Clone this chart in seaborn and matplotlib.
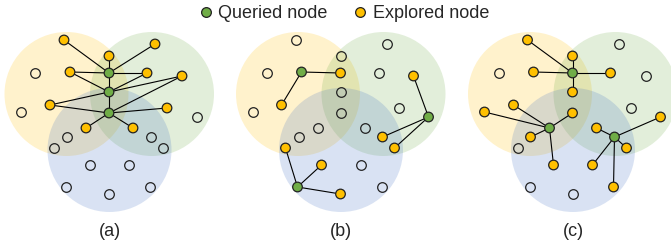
import numpy as np
import pandas as pd
import matplotlib
matplotlib.use("Agg")
import matplotlib.pyplot as plt
import seaborn as sns
from matplotlib.patches import Circle
from matplotlib.collections import LineCollection
from matplotlib.lines import Line2D

# Shared node layout (pixels inside one panel, y downwards)
node_x = [64, 109, 155, 35, 70, 109, 147, 182, 109, 21, 50, 109, 167,
          197, 86, 133, 67, 54, 151, 163, 90, 129, 66, 109, 150]
node_y = [40, 56, 44, 73, 72, 73, 73, 76, 92, 112, 105, 113, 108,
          117, 128, 128, 137, 148, 137, 148, 165, 165, 187, 194, 187]

# Three overlapping groups
group_names = ["yellow", "green", "blue"]
group_cx = [66.5, 152, 109.5]
group_cy = [94, 94, 150]
group_r = 62

panel_labels = ["(a)", "(b)", "(c)"]
panel_offsets = [0, 231.5, 463.5]

queried_a = [5, 8, 11]
explored_a = [0, 1, 2, 4, 6, 7, 10, 12, 14, 15]
edges_a = [(5, 0), (5, 1), (5, 2), (5, 4), (5, 6), (5, 8), (8, 11), (4, 8),
           (6, 8), (10, 8), (7, 8), (7, 11), (10, 11), (11, 12), (11, 14), (11, 15)]

queried_b = [4, 13, 22]
explored_b = [5, 10, 7, 18, 19, 17, 20, 23]
edges_b = [(4, 5), (4, 10), (13, 7), (13, 18), (13, 19), (22, 17), (22, 20), (22, 23)]

queried_c = [5, 14, 18]
explored_c = [0, 1, 4, 6, 8, 9, 10, 11, 16, 20, 15, 13, 19, 21, 24]
edges_c = [(5, 0), (5, 1), (5, 4), (5, 6), (5, 8), (14, 9), (14, 10), (14, 11),
           (14, 16), (14, 20), (18, 15), (18, 13), (18, 19), (18, 21), (18, 24)]

queried = [queried_a, queried_b, queried_c]
explored = [explored_a, explored_b, explored_c]
edges = [edges_a, edges_b, edges_c]

fill_colors = {"yellow": "#FFC000", "green": "#70AD47", "blue": "#4472C4"}
palette = {"Queried node": "#70AD47", "Explored node": "#FFC000"}
edge_dark = "#222222"

sns.set_theme(style="white")
plt.rcParams["font.family"] = ["Liberation Sans", "DejaVu Sans"]

fig = plt.figure(figsize=(6.71, 2.45), dpi=100)
ax = fig.add_axes([0, 0, 1, 1])
ax.set_xlim(0, 671)
ax.set_ylim(245, 0)
ax.set_axis_off()

for p in range(3):
    off = panel_offsets[p]
    for g, cx, cy in zip(group_names, group_cx, group_cy):
        ax.add_patch(Circle((cx + off, cy), group_r, facecolor=fill_colors[g],
                            alpha=0.2, edgecolor="none", zorder=1))

    segs = [[(node_x[i] + off, node_y[i]), (node_x[j] + off, node_y[j])] for i, j in edges[p]]
    ax.add_collection(LineCollection(segs, colors="black", linewidths=0.8, zorder=2))

    roles = []
    for k in range(len(node_x)):
        if k in queried[p]:
            roles.append("Queried node")
        elif k in explored[p]:
            roles.append("Explored node")
        else:
            roles.append("Unexplored")
    df = pd.DataFrame({"x": np.array(node_x) + off, "y": node_y, "role": roles})

    hollow = df[df.role == "Unexplored"]
    sns.scatterplot(data=hollow, x="x", y="y", ax=ax, s=48, color=(1, 1, 1, 0),
                    edgecolor=edge_dark, linewidth=0.9, legend=False, zorder=3)
    filled = df[df.role != "Unexplored"]
    sns.scatterplot(data=filled, x="x", y="y", hue="role", palette=palette, ax=ax,
                    s=48, edgecolor=edge_dark, linewidth=0.9, legend=False, zorder=4)

    ax.text(109.5 + off, 231, panel_labels[p], ha="center", va="center", fontsize=13)

handles = [Line2D([], [], marker="o", linestyle="none", markersize=7,
                  markerfacecolor=c, markeredgecolor=edge_dark, markeredgewidth=0.9, label=k)
           for k, c in palette.items()]
ax.legend(handles=handles, loc="center", bbox_to_anchor=(342 / 671, 1 - 14 / 245),
          ncol=2, frameon=False, fontsize=13, handletextpad=0.1, columnspacing=1.2,
          handlelength=1.2, borderpad=0)

ax.set_xlabel("")
ax.set_ylabel("")
fig.savefig("out.png", dpi=100)
